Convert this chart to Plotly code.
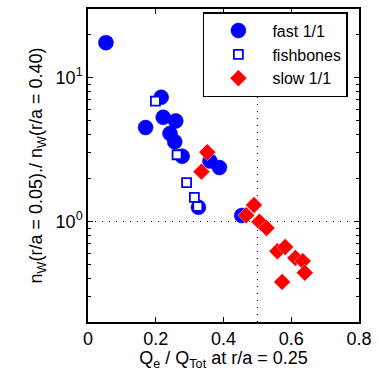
import plotly.graph_objects as go

# Data
fast_x = [0.053, 0.216, 0.222, 0.259, 0.170, 0.242, 0.256, 0.278, 0.360, 0.388, 0.326, 0.454]
fast_y = [17.5, 7.3, 5.3, 5.0, 4.5, 4.09, 3.58, 2.84, 2.63, 2.37, 1.255, 1.10]

fish_x = [0.199, 0.263, 0.291, 0.314, 0.324]
fish_y = [6.87, 2.91, 1.86, 1.47, 1.27]

slow_x = [0.352, 0.335, 0.490, 0.467, 0.506, 0.527, 0.559, 0.582, 0.612, 0.634, 0.640, 0.573]
slow_y = [3.03, 2.22, 1.30, 1.105, 0.995, 0.90, 0.621, 0.665, 0.558, 0.53, 0.44, 0.38]

threshold_x = 0.5
threshold_y = 1.0

x_ticks = [0, 0.2, 0.4, 0.6, 0.8]
x_ticktext = ["0", "0.2", "0.4", "0.6", "0.8"]
y_ticks = [1, 10]
y_ticktext = ["10<sup>0</sup>", "10<sup>1</sup>"]
y_minor = [0.2, 0.3, 0.4, 0.5, 0.6, 0.7, 0.8, 0.9, 2, 3, 4, 5, 6, 7, 8, 9, 20, 30]

FONT = "Liberation Sans, Arial, sans-serif"

fig = go.Figure()
fig.add_trace(go.Scatter(
    x=fast_x, y=fast_y, mode="markers", name="fast 1/1",
    marker=dict(symbol="circle", size=15, color="#0000FF",
                line=dict(color="#0000FF", width=0.5)),
))
fig.add_trace(go.Scatter(
    x=fish_x, y=fish_y, mode="markers", name="fishbones",
    marker=dict(symbol="square", size=9, color="white",
                line=dict(color="#0000FF", width=1.8)),
))
fig.add_trace(go.Scatter(
    x=slow_x, y=slow_y, mode="markers", name="slow 1/1",
    marker=dict(symbol="diamond", size=13, color="#FF0000",
                line=dict(color="white", width=0.4)),
))

dot = dict(color="black", width=1, dash="1px,6px")
fig.add_shape(type="line", xref="x", yref="paper", x0=threshold_x, x1=threshold_x,
              y0=0, y1=1, line=dot, layer="below")
fig.add_shape(type="line", xref="paper", yref="y", x0=0, x1=1,
              y0=threshold_y, y1=threshold_y, line=dot, layer="below")

fig.update_layout(
    width=379, height=371,
    margin=dict(l=88, r=20, t=7, b=49),
    paper_bgcolor="white", plot_bgcolor="white",
    font=dict(family=FONT, size=17, color="black"),
    showlegend=True,
    legend=dict(
        x=0.424, y=0.99, xanchor="left", yanchor="top",
        bgcolor="white", bordercolor="#000000", borderwidth=1.5,
        font=dict(size=16), itemwidth=58, tracegroupgap=0,
    ),
    xaxis=dict(
        range=[0, 0.8], tickvals=x_ticks, ticktext=x_ticktext,
        showgrid=False, zeroline=False, showline=True, mirror="ticks",
        linecolor="black", linewidth=1.5, ticks="inside", ticklen=5,
        tickcolor="black", tickfont=dict(size=18),
        title=dict(text="Q<sub>e</sub> / Q<sub>Tot</sub> at r/a = 0.25",
                   font=dict(size=18), standoff=2),
    ),
    yaxis=dict(
        type="log", range=[-0.699, 1.477], tickvals=y_ticks, ticktext=y_ticktext,
        showgrid=False, zeroline=False, showline=True, mirror="ticks",
        linecolor="black", linewidth=1.5, ticks="inside", ticklen=5,
        tickcolor="black", tickfont=dict(size=18),
        minor=dict(tickvals=y_minor, ticks="inside", ticklen=3, tickcolor="black"),
        title=dict(text="n<sub>W</sub>(r/a = 0.05)./ n<sub>W</sub>(r/a = 0.40)",
                   font=dict(size=18), standoff=8),
    ),
)

fig.write_html("out.html")
